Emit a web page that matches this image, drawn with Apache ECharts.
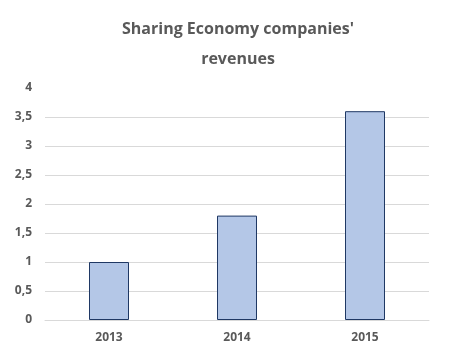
<!DOCTYPE html>
<html lang="en">

<head>
  <meta charset="UTF-8">
  <title>Sharing Economy</title>
  <script src="https://cdn.jsdelivr.net/npm/echarts@6/dist/echarts.min.js"></script>
  <style>
    body { margin: 0; background: #fff; }
  </style>
</head>

<body>
  <div id="chart" style="width: 455px;height: 354px;"></div>
  <script>
    // data
    const years = ['2013', '2014', '2015']
    const revenues = [1.0, 1.8, 3.6]

    const myEcharts = echarts.init(document.getElementById('chart'))

    const textColor = '#595959'
    const fontFamily = '"Open Sans", sans-serif'

    const option = {
      animation: false,
      title: {
        text: "Sharing Economy companies'\nrevenues",
        left: 233,
        top: 9,
        textAlign: 'center',
        textStyle: {
          color: textColor,
          fontFamily,
          fontWeight: 'bold',
          fontSize: 16,
          lineHeight: 30
        }
      },
      grid: { left: 45, right: 26, top: 88, bottom: 34 },
      xAxis: {
        type: 'category',
        data: years,
        axisTick: { show: false },
        axisLine: { lineStyle: { color: '#d9d9d9' } },
        axisLabel: {
          color: textColor, fontFamily, fontWeight: 'bold', fontSize: 12, margin: 12
        }
      },
      yAxis: {
        type: 'value',
        min: 0,
        max: 4,
        interval: 0.5,
        axisLabel: {
          color: textColor, fontFamily, fontWeight: 'bold', fontSize: 12, margin: 13,
          formatter: v => String(v).replace('.', ',')
        },
        // top gridline is not drawn in the original
        splitLine: {
          lineStyle: {
            color: ['#d9d9d9', '#d9d9d9', '#d9d9d9', '#d9d9d9', '#d9d9d9',
              '#d9d9d9', '#d9d9d9', '#d9d9d9', 'rgba(0,0,0,0)']
          }
        }
      },
      series: [
        {
          type: 'bar',
          data: revenues,
          barWidth: 40,
          itemStyle: {
            color: '#b4c7e7',
            borderColor: '#1f3864',
            borderWidth: 1
          }
        }
      ]
    }

    myEcharts.setOption(option)
  </script>
</body>

</html>
